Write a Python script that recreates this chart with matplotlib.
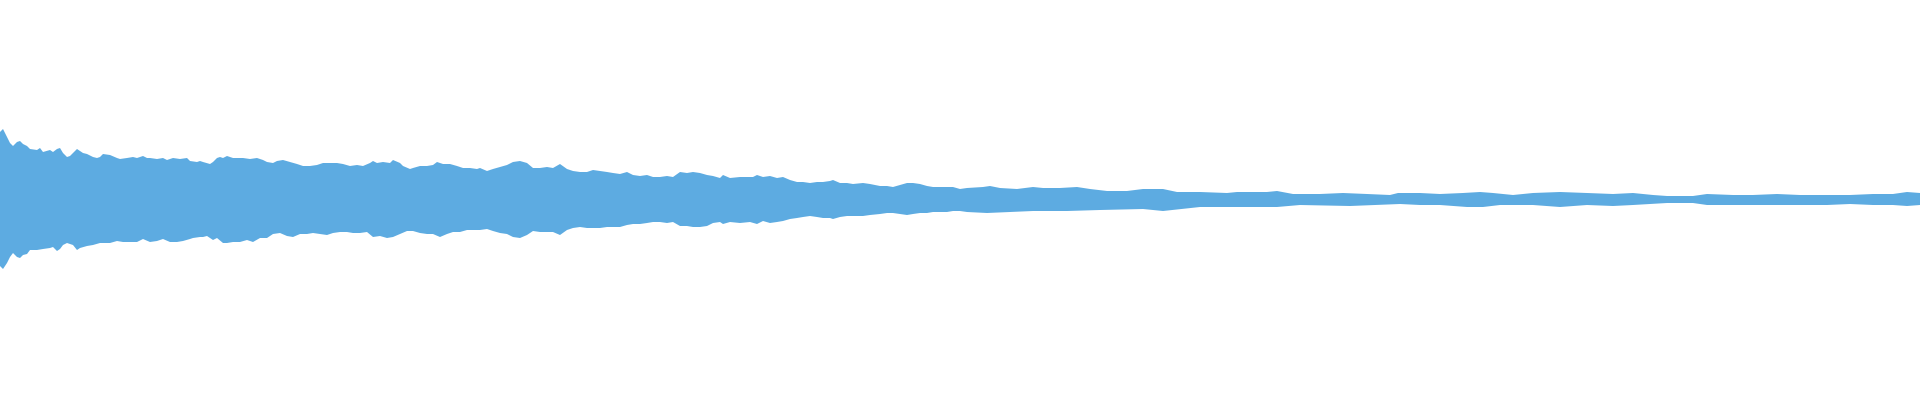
import matplotlib
matplotlib.use("Agg")
import matplotlib.pyplot as plt

# waveform envelope: time in px columns, amplitude in px
# upper (positive) half
t_top = [0, 3, 7, 10, 13, 17, 20, 23, 27, 30, 37, 40, 43, 50, 53, 57, 60, 63,
         67, 70, 73, 77, 80, 83, 87, 93, 97, 100, 103, 110, 117, 120, 127, 133,
         137, 143, 147, 150, 157, 163, 167, 173, 180, 187, 190, 197, 200, 203,
         210, 213, 217, 220, 223, 227, 230, 233, 240,
         243, 250, 257, 263, 267, 273, 277, 283, 290, 297, 303, 310, 317, 323,
         330, 337, 343, 350, 357, 363, 370, 373, 377, 383, 390, 393, 400, 403,
         410, 413, 420, 427, 433, 437, 443, 450, 457, 463, 470, 477,
         480, 487, 493, 500, 507, 513, 520, 527, 533, 540, 547, 553, 560, 567,
         573, 580, 587, 593, 600, 607, 613, 620, 627, 633, 640, 647, 653, 660,
         667, 673, 680, 687, 693, 700, 707, 713,
         720, 723, 730, 740, 747, 753, 757, 763, 770, 777, 783, 790, 797, 803,
         810, 817, 823, 830, 833, 840, 847, 853, 863, 870, 880, 887, 893, 900,
         907, 913, 920, 927, 933, 940, 947, 953,
         960, 967, 983, 990, 1000, 1017, 1033, 1043, 1060, 1077, 1090, 1107,
         1127, 1143, 1163, 1177, 1200, 1227, 1237, 1267, 1277, 1293, 1320,
         1343, 1367, 1390, 1398,
         1420, 1440, 1463, 1480, 1493, 1513, 1533, 1560, 1587, 1613, 1633,
         1653, 1667, 1693, 1707, 1733, 1753, 1777, 1800, 1827, 1850, 1873,
         1893, 1907, 1920]
upper = [68, 71, 63, 57, 54, 58, 59, 56, 54, 51, 50, 52, 48, 50, 48, 51, 52, 47,
         43, 44, 47, 51, 49, 47, 46, 43, 42, 43, 46, 45, 42, 41, 42, 43,
         42, 44, 42, 42, 41, 42, 40, 42, 41, 42, 39, 38, 39, 38,
         36, 38, 42, 43, 42, 44, 43, 42, 42,
         42, 41, 42, 40, 38, 37, 39, 40, 38, 36, 34, 34, 35, 37,
         37, 37, 36, 34, 35, 34, 37, 39, 37, 38, 37, 40, 37, 34,
         31, 32, 34, 34, 35, 38, 36, 36, 34, 32, 32, 31,
         32, 29, 31, 33, 35, 38, 39, 37, 32, 32, 33, 32, 36, 31,
         29, 28, 28, 30, 29, 28, 27, 26, 28, 25, 24, 25, 23, 23,
         24, 23, 28, 27, 28, 27, 25, 24,
         22, 25, 22, 23, 23, 23, 25, 23, 24, 22, 23, 20, 18, 18,
         17, 18, 18, 19, 20, 17, 17, 16, 17, 16, 14, 14, 13, 15,
         17, 17, 16, 14, 13, 13, 13, 13,
         11, 12, 13, 14, 12, 11, 13, 12, 12, 13, 11, 9,
         9, 11, 11, 8, 8, 7, 8, 8, 9, 6, 6,
         7, 6, 5, 7,
         7, 6, 7, 8, 7, 5, 7, 8, 7, 6, 7,
         5, 4, 4, 6, 5, 5, 6, 5, 5, 5, 6,
         6, 8, 7]

# lower (negative) half
t_bot = [0, 3, 7, 10, 13, 17, 20, 23, 27, 30, 37, 43, 50, 53, 57, 60, 63, 67,
         70, 73, 77, 80, 87, 93, 100, 110, 117, 123, 130, 137, 143, 150, 157,
         163, 170, 177, 183, 190, 193, 200, 203, 207, 213, 217, 223, 227, 233,
         240, 247, 253, 260, 267, 273, 280, 287, 293, 300, 307, 313, 320, 327,
         333, 340, 347, 353, 360, 367, 373, 380, 387, 393, 400, 407, 413, 420,
         427, 433, 440, 447, 453, 460, 467, 473,
         480, 487, 493, 500, 507, 513, 520, 527, 533, 540, 547, 553, 560, 567,
         573, 580, 587, 593, 600, 607, 613, 620, 627, 633, 640, 647, 653, 660,
         667, 673, 680, 687, 693, 700, 707, 713,
         720, 723, 730, 740, 750, 757, 763, 770, 777, 783, 790, 797, 803, 810,
         817, 823, 830, 833, 840, 847, 853, 863, 870, 880, 887, 893, 900, 907,
         913, 920, 927, 933, 940, 947, 953,
         960, 967, 987, 1033, 1067, 1100, 1143, 1163, 1200, 1233, 1277, 1300,
         1350, 1400, 1420, 1440, 1467, 1483, 1500, 1533, 1560, 1587, 1613,
         1633, 1667, 1693, 1707, 1733, 1753, 1777, 1800, 1827, 1850, 1873,
         1893, 1907, 1920]
lower = [66, 69, 63, 57, 53, 57, 58, 55, 54, 50, 50, 49, 48, 47, 51, 49, 45, 43,
         44, 45, 50, 48, 46, 45, 43, 43, 41, 42, 42, 42, 39, 42, 41,
         39, 42, 42, 41, 39, 38, 37, 37, 36, 40, 38, 43, 43, 42,
         42, 40, 42, 38, 38, 34, 33, 36, 37, 34, 34, 33, 34, 35,
         33, 32, 32, 33, 33, 32, 37, 36, 38, 37, 34, 31, 31, 33,
         34, 34, 37, 34, 32, 32, 30, 30,
         30, 29, 31, 33, 34, 37, 38, 35, 31, 32, 32, 32, 35, 30,
         28, 27, 28, 28, 28, 27, 27, 27, 25, 24, 24, 23, 22, 22,
         23, 22, 26, 26, 27, 27, 26, 23,
         22, 24, 22, 23, 22, 24, 21, 23, 22, 21, 19, 18, 17, 16,
         17, 18, 18, 19, 17, 16, 16, 16, 15, 14, 13, 13, 14, 15,
         14, 13, 13, 12, 12, 12, 11,
         11, 12, 13, 11, 11, 10, 9, 11, 7, 7, 7, 5,
         6, 4, 5, 5, 7, 7, 5, 5, 7, 5, 6,
         5, 3, 3, 5, 5, 5, 5, 5, 5, 4, 5,
         5, 6, 5]

fig = plt.figure(figsize=(19.2, 4), dpi=100)
ax = fig.add_axes([0, 0, 1, 1])
ax.fill_between(t_top, 0, upper, color="#5DABE1", linewidth=0)
ax.fill_between(t_bot, [-v for v in lower], 0, color="#5DABE1", linewidth=0)
ax.set_xlim(0, 1920)
ax.set_ylim(-200, 200)
ax.axis("off")
fig.savefig("out.png", dpi=100, facecolor="white")
